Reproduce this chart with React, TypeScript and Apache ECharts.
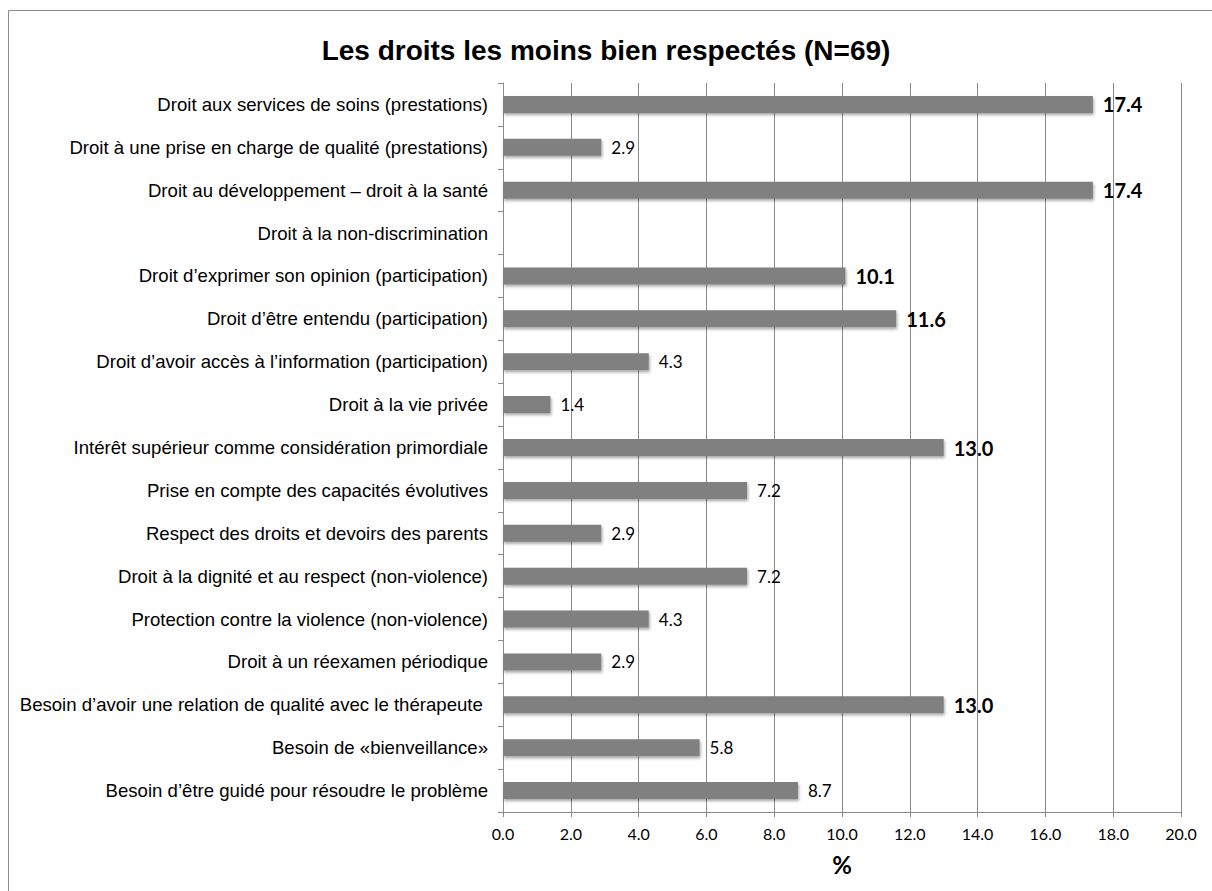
import React, { useEffect, useRef } from "react";
import * as echarts from "echarts";

const titleText = "Les droits les moins bien respectés (N=69)";
const axisName = "%";

const categories: string[] = [
  "Droit aux services de soins (prestations)",
  "Droit à une prise en charge de qualité (prestations)",
  "Droit au développement – droit à la santé",
  "Droit à la non-discrimination",
  "Droit d’exprimer son opinion (participation)",
  "Droit d’être entendu (participation)",
  "Droit d’avoir accès à l’information (participation)",
  "Droit à la vie privée",
  "Intérêt supérieur comme considération primordiale",
  "Prise en compte des capacités évolutives",
  "Respect des droits et devoirs des parents",
  "Droit à la dignité et au respect (non-violence)",
  "Protection contre la violence (non-violence)",
  "Droit à un réexamen périodique",
  "Besoin d’avoir une relation de qualité avec le thérapeute ",
  "Besoin de «bienveillance»",
  "Besoin d’être guidé pour résoudre le problème",
];

const values: (number | null)[] = [
  17.4, 2.9, 17.4, null, 10.1, 11.6, 4.3, 1.4, 13.0, 7.2, 2.9, 7.2, 4.3, 2.9, 13.0, 5.8, 8.7,
];

const xMin = 0;
const xMax = 20;
const xInterval = 2;
const boldThreshold = 10;

export default function App() {
  const ref = useRef<HTMLDivElement>(null);

  useEffect(() => {
    if (!ref.current) return;
    const chart = echarts.init(ref.current, undefined, { renderer: "svg" });
    const gridColor = "#8a8a8a";
    chart.setOption({
      animation: false,
      backgroundColor: "#ffffff",
      title: {
        text: titleText,
        left: "center",
        top: 31,
        textStyle: {
          fontFamily: "Liberation Sans, Arial, sans-serif",
          fontSize: 28,
          fontWeight: "bold",
          color: "#000",
        },
      },
      graphic: [
        {
          type: "polyline",
          shape: { points: [[8.5, 891], [8.5, 10.5], [1212, 10.5]] },
          style: { stroke: "#8c8c8c", lineWidth: 1, fill: "none" },
          silent: true,
        },
      ],
      grid: { left: 503, right: 31, top: 83, bottom: 79, containLabel: false },
      xAxis: {
        type: "value",
        min: xMin,
        max: xMax,
        interval: xInterval,
        name: axisName,
        nameLocation: "middle",
        nameGap: 40,
        nameTextStyle: {
          fontFamily: "Lato, Open Sans, sans-serif",
          fontSize: 24,
          fontWeight: "bold",
          color: "#000",
        },
        axisLine: { show: true, lineStyle: { color: gridColor, width: 1 } },
        axisTick: { show: true, length: 5, lineStyle: { color: gridColor } },
        axisLabel: {
          margin: 13,
          fontFamily: "Lato, Open Sans, sans-serif",
          fontSize: 16,
          color: "#000",
          formatter: (v: number) => v.toFixed(1),
        },
        splitLine: { show: true, lineStyle: { color: gridColor, width: 1 } },
      },
      yAxis: {
        type: "category",
        data: categories,
        inverse: true,
        axisLine: { show: true, lineStyle: { color: gridColor, width: 1 } },
        axisTick: { show: true, length: 5, alignWithLabel: false, lineStyle: { color: gridColor } },
        axisLabel: {
          margin: 15,
          fontFamily: "Liberation Sans, Arial, sans-serif",
          fontSize: 18.6,
          color: "#000",
        },
        splitLine: { show: false },
      },
      series: [
        {
          type: "bar",
          data: values,
          barWidth: 17,
          itemStyle: {
            color: "#808080",
            shadowColor: "rgba(0,0,0,0.35)",
            shadowBlur: 3,
            shadowOffsetX: 1,
            shadowOffsetY: 2,
          },
          label: {
            show: true,
            position: "right",
            distance: 10,
            formatter: (p: any) => {
              const v = p.value;
              if (v === null || v === undefined) return "";
              const s = Number(v).toFixed(1);
              return v >= boldThreshold ? `{b|${s}}` : `{n|${s}}`;
            },
            rich: {
              b: {
                fontFamily: "Lato, Open Sans, sans-serif",
                fontSize: 20,
                fontWeight: "bold",
                color: "#000",
              },
              n: {
                fontFamily: "Lato, Open Sans, sans-serif",
                fontSize: 17,
                color: "#000",
              },
            },
          },
        },
      ],
    });
    return () => chart.dispose();
  }, []);

  return (
    <div
      ref={ref}
      style={{ position: "absolute", left: 0, top: 0, width: 1212, height: 891 }}
    />
  );
}
